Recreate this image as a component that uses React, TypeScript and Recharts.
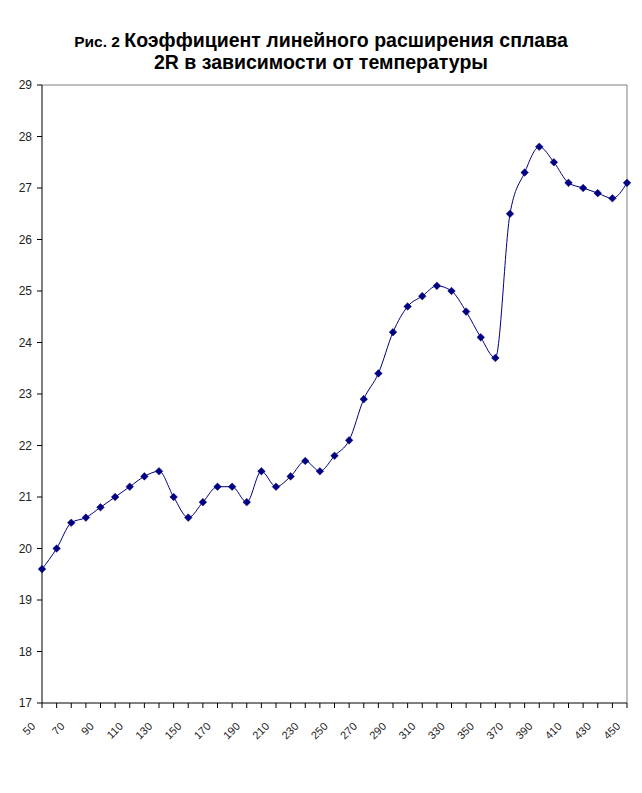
import { LineChart, Line, XAxis, YAxis, ReferenceLine } from "recharts";

const temps = [
  50, 60, 70, 80, 90, 100, 110, 120, 130, 140, 150, 160, 170, 180, 190, 200,
  210, 220, 230, 240, 250, 260, 270, 280, 290, 300, 310, 320, 330, 340, 350,
  360, 370, 380, 390, 400, 410, 420, 430, 440, 450,
];
const coef = [
  19.6, 20.0, 20.5, 20.6, 20.8, 21.0, 21.2, 21.4, 21.5, 21.0, 20.6, 20.9, 21.2,
  21.2, 20.9, 21.5, 21.2, 21.4, 21.7, 21.5, 21.8, 22.1, 22.9, 23.4, 24.2, 24.7,
  24.9, 25.1, 25.0, 24.6, 24.1, 23.7, 26.5, 27.3, 27.8, 27.5, 27.1, 27.0, 26.9,
  26.8, 27.1,
];
const yTicks = [17, 18, 19, 20, 21, 22, 23, 24, 25, 26, 27, 28, 29];
const labelEvery = 20;

const data = temps.map((t, i) => ({ t, v: coef[i] }));

const font = "Arial, 'Liberation Sans', sans-serif";
const navy = "#000080";

function Diamond(props: any) {
  const { cx, cy } = props;
  if (cx == null || cy == null) return null;
  const r = 3.8;
  return (
    <polygon
      points={`${cx},${cy - r} ${cx + r},${cy} ${cx},${cy + r} ${cx - r},${cy}`}
      fill={navy}
      stroke={navy}
      strokeWidth={0.5}
    />
  );
}

// only every other category gets a label, tick marks stay on all of them
function XTick(props: any) {
  const { x, y, payload } = props;
  if ((payload.value - temps[0]) % labelEvery !== 0) return null;
  const ax = x - 6;
  const ay = y + 17;
  return (
    <text
      x={ax}
      y={ay}
      transform={`rotate(-45, ${ax}, ${ay})`}
      textAnchor="end"
      fontSize={11}
      fontFamily={font}
      fill="#222"
    >
      {payload.value}
    </text>
  );
}

export default function App() {
  return (
    <div
      style={{
        position: "absolute",
        left: 0,
        top: 0,
        width: 642,
        height: 793,
        background: "#fff",
      }}
    >
      <div
        style={{
          position: "absolute",
          top: 30,
          left: 0,
          width: 642,
          textAlign: "center",
          fontFamily: font,
          fontWeight: "bold",
          fontSize: 19.5,
          lineHeight: "21px",
          color: "#000",
        }}
      >
        <span style={{ fontSize: 15.5 }}>Рис. 2 </span>Коэффициент линейного
        расширения сплава
        <br />
        2R в зависимости от температуры
      </div>
      <LineChart
        width={642}
        height={793}
        data={data}
        margin={{ top: 85, right: 15, bottom: 0, left: 0 }}
      >
        <ReferenceLine y={29} stroke="#808080" strokeWidth={1} />
        <ReferenceLine x={450} stroke="#808080" strokeWidth={1} />
        <XAxis
          dataKey="t"
          type="number"
          domain={[50, 450]}
          ticks={temps}
          interval={0}
          height={90}
          axisLine={{ stroke: "#000" }}
          tickLine={{ stroke: "#000" }}
          tickSize={5}
          tick={<XTick />}
        />
        <YAxis
          type="number"
          domain={[17, 29]}
          ticks={yTicks}
          interval={0}
          width={42}
          axisLine={{ stroke: "#000" }}
          tickLine={{ stroke: "#000" }}
          tickSize={5}
          tickMargin={5}
          tick={{ fontSize: 12, fontFamily: font, fill: "#222" }}
        />
        <Line
          dataKey="v"
          type="monotone"
          stroke={navy}
          strokeWidth={1}
          dot={<Diamond />}
          activeDot={false}
          isAnimationActive={false}
        />
      </LineChart>
    </div>
  );
}
